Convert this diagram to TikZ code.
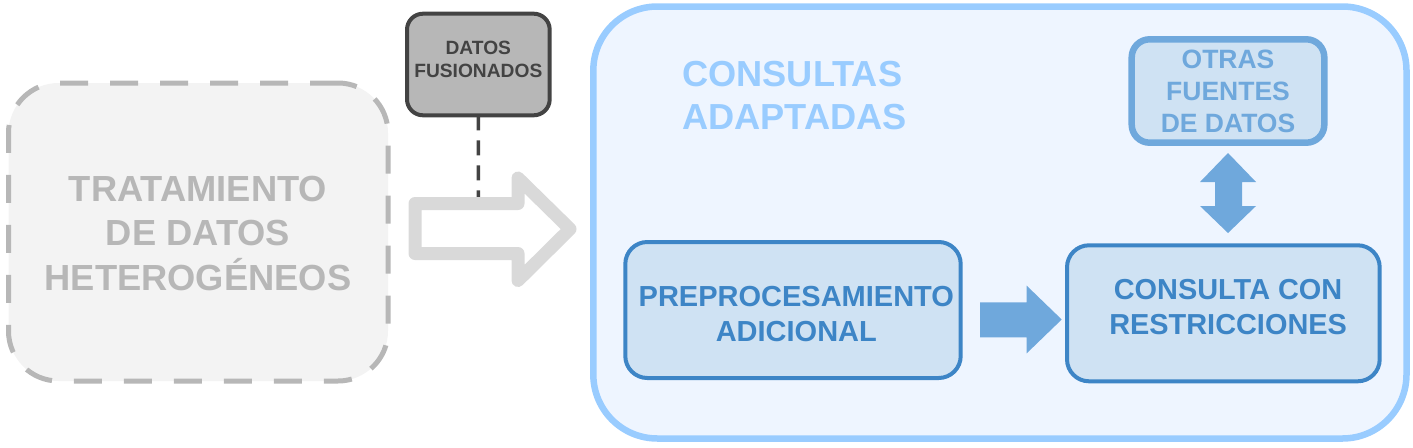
\documentclass[tikz,border=0pt]{standalone}
\usepackage{fontspec}
\setmainfont{Liberation Sans}
\definecolor{leftfill}{HTML}{F3F3F3}
\definecolor{leftgray}{HTML}{B7B7B7}
\definecolor{fusfill}{HTML}{B7B7B7}
\definecolor{dark}{HTML}{434343}
\definecolor{arrowgray}{HTML}{D9D9D9}
\definecolor{contfill}{HTML}{EEF5FF}
\definecolor{contline}{HTML}{99CCFF}
\definecolor{boxfill}{HTML}{CFE2F3}
\definecolor{boxline}{HTML}{3D85C6}
\definecolor{midblue}{HTML}{6FA8DC}
\begin{document}
\begin{tikzpicture}[x=1pt,y=-1pt,
  every node/.style={inner sep=0pt,outer sep=0pt},
  panel/.style={draw,anchor=north west},
  lbl/.style={align=center,font=\bfseries},
  blockarrow/.style={fill=midblue,draw=none}]
\useasboundingbox (0,0) rectangle (1413,447);

% big container
\node[panel,draw=contline,fill=contfill,line width=6.5pt,rounded corners=64pt,
  minimum width=813.2pt,minimum height=432pt] (cont) at (593.3,6.5) {};
\node[anchor=north west,align=left,font=\fontsize{36.2}{43.3}\selectfont\bfseries,text=contline] (contT) at (682.3,61.2) {CONSULTAS\\ADAPTADAS};

% left dashed box
\node[panel,draw=leftgray,fill=leftfill,line width=5pt,dash pattern=on 28pt off 22pt,
  rounded corners=50pt,minimum width=379.5pt,minimum height=298pt] (trat) at (8.5,83) {};
\node[lbl,font=\fontsize{36.3}{44.2}\selectfont\bfseries,text=leftgray] (tratT) at (198,233.4) {TRATAMIENTO\\DE DATOS\\HETEROGÉNEOS};

% datos fusionados
\node[panel,draw=dark,fill=fusfill,line width=4pt,rounded corners=16pt,
  minimum width=142.7pt,minimum height=101.6pt] (fus) at (407,13.7) {};
\node[lbl,font=\fontsize{19.2}{23}\selectfont\bfseries,text=dark] (fusT) at (478.3,59.6) {DATOS\\FUSIONADOS};
\coordinate (fusEnd) at (478.3,197);
\draw[dark,line width=3.5pt,dash pattern=on 15pt off 10pt] (fus.south) -- (fusEnd);

% hollow gray arrow
\draw[arrowgray,fill=white,line width=13pt,line join=round]
  (415,203.5) -- (518,203.5) -- (518,178) -- (570,229) -- (518,280.5) -- (518,253.5) -- (415,253.5) -- cycle;

% otras fuentes
\node[panel,draw=midblue,fill=boxfill,line width=6.5pt,rounded corners=18pt,
  minimum width=192.6pt,minimum height=103.4pt] (otras) at (1131.7,39.3) {};
\node[lbl,font=\fontsize{26.5}{32.3}\selectfont\bfseries,text=midblue] (otrasT) at (1228,91.5) {OTRAS\\FUENTES\\DE DATOS};

% preprocesamiento
\node[panel,draw=boxline,fill=boxfill,line width=4pt,rounded corners=22pt,
  minimum width=335.4pt,minimum height=136pt] (pre) at (625.3,242) {};
\node[lbl,font=\fontsize{29}{34.4}\selectfont\bfseries,text=boxline] (preT) at (796.3,314.2) {PREPROCESAMIENTO\\ADICIONAL};

% consulta con restricciones
\node[panel,draw=boxline,fill=boxfill,line width=4pt,rounded corners=22pt,
  minimum width=312.7pt,minimum height=136pt] (cons) at (1067,245.3) {};
\node[lbl,font=\fontsize{28.9}{34.7}\selectfont\bfseries,text=boxline] (consT) at (1228.1,306.7) {CONSULTA CON\\RESTRICCIONES};

% block arrows
\fill[blockarrow] (980,302.3) -- (1026.7,302.3) -- (1026.7,285.7) -- (1061.7,319.5)
  -- (1026.7,353.3) -- (1026.7,337.3) -- (980,337.3) -- cycle;
\fill[blockarrow] (1228,153) -- (1256,182) -- (1242,182) -- (1242,206) -- (1256,206)
  -- (1228,233) -- (1200,206) -- (1215,206) -- (1215,182) -- (1200,182) -- cycle;
\end{tikzpicture}
\end{document}
